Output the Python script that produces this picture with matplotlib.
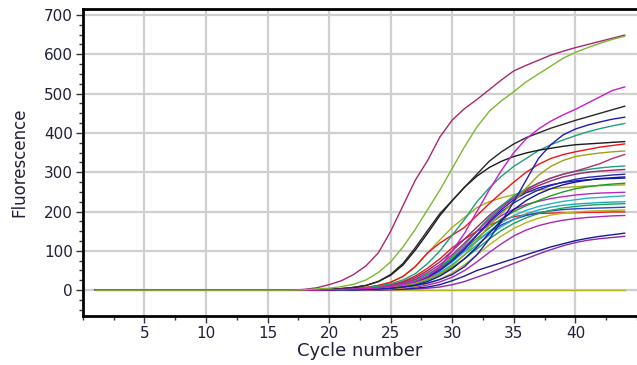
#!/usr/bin/env python3
"""
qPCR amplification curves: fluorescence vs cycle number.
"""

import matplotlib

matplotlib.use("Agg")
import matplotlib.pyplot as plt
from matplotlib.ticker import MultipleLocator

FONT_SIZE = 11
TEXT_COLOR = "#20203a"

# cycles 1..44; curves below are read from cycle 18 onward, all were 0 before that
CYCLES = list(range(1, 45))
FIRST_READ = 18

maroon_a = [2, 6, 14, 24, 40, 62, 95, 150, 215, 280, 330, 390, 433, 462, 485, 510, 535, 558, 572, 585, 598, 608, 617, 625, 633, 641, 649]
yellowgreen_a = [1, 3, 5, 9, 15, 26, 45, 72, 110, 155, 205, 255, 310, 365, 415, 455, 482, 505, 530, 550, 570, 590, 605, 617, 628, 638, 646]
magenta_a = [0, 0, 1, 2, 3, 4, 6, 9, 14, 22, 35, 60, 100, 145, 200, 255, 305, 350, 385, 410, 430, 446, 460, 476, 492, 508, 517]
black_a = [0, 1, 2, 4, 7, 12, 22, 40, 68, 108, 152, 195, 228, 262, 295, 328, 352, 372, 388, 400, 412, 422, 432, 441, 450, 459, 468]
black_b = [0, 1, 2, 4, 7, 12, 22, 38, 64, 102, 145, 190, 228, 262, 290, 312, 328, 340, 349, 356, 361, 366, 370, 372, 374, 376, 378]
blue_a = [0, 0, 0, 1, 1, 2, 3, 5, 8, 12, 18, 27, 40, 60, 90, 130, 175, 225, 280, 335, 370, 395, 410, 420, 428, 435, 440]
teal_a = [0, 1, 1, 2, 4, 6, 10, 16, 26, 42, 68, 100, 140, 180, 225, 260, 290, 315, 335, 355, 370, 382, 393, 403, 411, 418, 424]
red_a = [0, 1, 1, 2, 4, 7, 12, 20, 35, 60, 95, 120, 140, 160, 190, 220, 248, 275, 300, 320, 335, 345, 352, 358, 364, 368, 372]
olive_a = [0, 0, 1, 1, 2, 3, 5, 8, 12, 18, 28, 42, 62, 90, 125, 165, 195, 225, 260, 292, 315, 330, 340, 345, 349, 352, 354]
maroon_b = [0, 0, 1, 2, 3, 5, 8, 12, 18, 28, 45, 65, 90, 120, 150, 180, 210, 235, 255, 272, 285, 295, 303, 312, 322, 335, 345]
teal_b = [0, 0, 1, 1, 2, 4, 6, 10, 16, 26, 40, 60, 85, 115, 150, 185, 215, 240, 258, 272, 285, 295, 302, 307, 311, 314, 316]
maroon_c = [0, 0, 1, 2, 3, 5, 8, 13, 20, 32, 50, 72, 100, 130, 160, 190, 215, 235, 252, 266, 278, 288, 295, 300, 303, 305, 307]
blue_b = [0, 0, 0, 1, 2, 3, 5, 8, 13, 21, 34, 52, 75, 105, 140, 172, 200, 222, 240, 255, 266, 275, 282, 287, 290, 293, 295]
navy_a = [0, 0, 0, 1, 1, 2, 3, 5, 8, 13, 22, 36, 55, 80, 110, 145, 178, 205, 228, 245, 258, 268, 275, 280, 284, 286, 288]
blue_c = [0, 0, 1, 1, 2, 3, 5, 8, 12, 20, 32, 50, 75, 105, 140, 175, 205, 230, 248, 260, 268, 274, 278, 281, 283, 284, 285]
green_a = [0, 0, 1, 1, 2, 4, 6, 10, 16, 26, 40, 58, 80, 105, 132, 158, 182, 200, 215, 228, 240, 250, 258, 263, 267, 270, 272]
olive_b = [0, 1, 1, 2, 4, 7, 12, 20, 35, 60, 95, 128, 160, 185, 210, 225, 235, 243, 249, 254, 258, 261, 263, 265, 266, 267, 268]
purple_a = [0, 0, 1, 1, 2, 3, 5, 8, 13, 22, 35, 55, 80, 110, 140, 168, 190, 206, 218, 226, 233, 238, 242, 245, 247, 248, 249]
cyan_a = [0, 0, 0, 1, 2, 3, 5, 8, 13, 21, 33, 50, 72, 98, 125, 150, 172, 190, 203, 213, 220, 226, 230, 234, 236, 238, 240]
cyan_b = [0, 0, 1, 1, 2, 3, 5, 8, 12, 19, 30, 45, 65, 90, 115, 140, 162, 180, 194, 204, 211, 216, 219, 221, 223, 224, 225]
green_b = [0, 0, 0, 1, 1, 2, 4, 6, 10, 16, 26, 40, 58, 80, 105, 130, 152, 170, 184, 195, 203, 209, 213, 216, 218, 219, 220]
blue_d = [0, 0, 1, 1, 2, 3, 5, 8, 13, 21, 34, 52, 75, 100, 125, 148, 166, 180, 190, 197, 202, 205, 207, 208, 209, 210, 211]
olive_c = [0, 0, 0, 0, 1, 1, 2, 4, 6, 10, 17, 28, 44, 65, 90, 115, 138, 157, 172, 183, 191, 196, 199, 201, 202, 203, 204]
red_b = [0, 0, 1, 2, 3, 5, 8, 13, 22, 36, 56, 80, 108, 130, 150, 165, 178, 187, 192, 195, 196, 197, 197, 198, 198, 199, 199]
purple_b = [0, 0, 0, 0, 1, 1, 2, 3, 5, 8, 13, 21, 33, 50, 72, 96, 118, 138, 153, 164, 172, 178, 182, 185, 187, 189, 190]
navy_b = [0, 0, 0, 0, 0, 1, 1, 2, 3, 5, 8, 14, 24, 36, 50, 60, 70, 80, 90, 100, 110, 118, 126, 132, 137, 141, 145]
purple_c = [0, 0, 0, 0, 0, 0, 1, 1, 2, 3, 5, 8, 14, 22, 33, 44, 56, 68, 80, 92, 103, 113, 121, 127, 131, 134, 137]
ntc = [0] * 27

# (values, colour) in drawing order; yellow-green last so it shows on the baseline
CURVES = [
    (ntc, "#b4b41e"),
    (purple_c, "#8c28b4"),
    (navy_b, "#1a1a96"),
    (purple_b, "#a828b4"),
    (red_b, "#e61e1e"),
    (olive_c, "#b4b41e"),
    (blue_d, "#2846c8"),
    (green_b, "#1ea05a"),
    (cyan_b, "#1eaab4"),
    (cyan_a, "#28b4c8"),
    (purple_a, "#b428c8"),
    (olive_b, "#aaaa14"),
    (green_a, "#1e9e1e"),
    (blue_c, "#1e1ec8"),
    (navy_a, "#14148c"),
    (blue_b, "#2828b4"),
    (maroon_c, "#96286e"),
    (teal_b, "#1ea082"),
    (maroon_b, "#aa3278"),
    (olive_a, "#a0a014"),
    (red_a, "#f01414"),
    (teal_a, "#1ea078"),
    (blue_a, "#1e1eb4"),
    (black_b, "#1a1a1a"),
    (black_a, "#282828"),
    (magenta_a, "#c81ec8"),
    (maroon_a, "#a8276e"),
    (yellowgreen_a, "#7cb82f"),
]


def full_series(values):
    return [0] * (FIRST_READ - 1) + list(values)


def main():
    fig = plt.figure(figsize=(6.37, 3.65), dpi=100)
    ax = fig.add_axes([0.130, 0.134, 0.870, 0.841])

    for values, color in CURVES:
        ax.plot(CYCLES, full_series(values), color=color, linewidth=1.0)

    ax.set_xlim(0, 45)
    ax.set_ylim(-66, 715)

    ax.xaxis.set_minor_locator(MultipleLocator(2.5))
    ax.yaxis.set_major_locator(MultipleLocator(100))
    ax.yaxis.set_minor_locator(MultipleLocator(25))
    ax.set_xticks([5, 10, 15, 20, 25, 30, 35, 40])

    ax.grid(True, which="major", color="#cfcfcf", linewidth=1.6, zorder=0)
    ax.set_axisbelow(True)

    for side in ("left", "bottom", "top"):
        ax.spines[side].set_linewidth(2.0)
        ax.spines[side].set_color("black")
    ax.spines["right"].set_visible(False)

    ax.tick_params(axis="both", which="major", direction="out", length=5,
                   width=1.0, color="#333333", labelsize=FONT_SIZE,
                   labelcolor=TEXT_COLOR, pad=2)
    ax.tick_params(axis="both", which="minor", direction="out", length=3,
                   width=1.0, color="#333333")

    ax.set_xlabel("Cycle number", fontsize=13, color=TEXT_COLOR, labelpad=1)
    ax.set_ylabel("Fluorescence", fontsize=12, color=TEXT_COLOR, labelpad=11)

    fig.savefig("out.png", dpi=100)
    plt.close(fig)


if __name__ == "__main__":
    main()
